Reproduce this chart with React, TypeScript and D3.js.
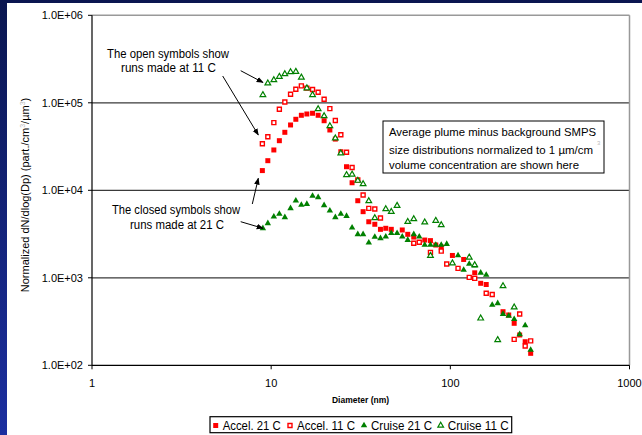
import React from 'react';
import * as d3 from 'd3';

// diameter (nm), normalized dN/dlog(Dp)
const accel21 = [
  [8.93, 1.68e4], [9.58, 2.18e4], [10.35, 2.89e4], [11.11, 3.69e4], [11.92, 4.6e4], [12.83, 5.58e4],
  [13.73, 6.48e4], [14.74, 7.2e4], [15.82, 7.45e4], [17.02, 7.59e4], [18.29, 7.2e4], [19.75, 6.24e4],
  [21.26, 4.89e4], [22.81, 3.85e4], [24.48, 2.76e4], [26.34, 1.86e4], [28.29, 1.22e4], [30.44, 7.6e3],
  [32.6, 5.7e3], [35.06, 4.37e3], [37.88, 4.09e3], [40.74, 3.58e3], [43.62, 3.68e3], [46.82, 3.58e3],
  [53.91, 3.52e3], [57.86, 3.14e3], [62.5, 2.92e3], [71.97, 2.7e3], [77.45, 2.66e3], [82.93, 2.37e3],
  [88.98, 2.25e3], [102.7, 1.8e3], [118.7, 1.62e3], [136.8, 1.14e3], [147.7, 865], [158.6, 838],
  [196.8, 410], [211.8, 376], [227.2, 302], [243.8, 222], [261.7, 186], [280.8, 137],
];
const accel11 = [
  [8.93, 3.41e4], [9.58, 4.1e4], [10.35, 5.93e4], [11.11, 8.43e4], [11.92, 1.02e5], [12.83, 1.25e5],
  [13.73, 1.43e5], [14.74, 1.56e5], [15.82, 1.47e5], [17.02, 1.42e5], [18.29, 1.32e5], [19.75, 1.1e5],
  [21.26, 8.57e4], [22.81, 6.28e4], [24.48, 4.31e4], [26.34, 2.72e4], [28.29, 1.82e4], [30.44, 1.31e4],
  [32.6, 8.84e3], [35.06, 6.22e3], [37.88, 6.11e3], [40.74, 4.82e3], [62.5, 2.48e3], [67.07, 2.55e3],
  [77.45, 1.95e3], [88.98, 2.02e3], [95.48, 1.44e3], [110.4, 1.28e3], [127.5, 1.01e3], [136.8, 986],
  [158.6, 665], [171.3, 644], [227.2, 198], [243.8, 385], [261.7, 166], [280.8, 190],
];
const cruise21 = [
  [8.99, 3.68e3], [9.58, 4.2e3], [10.35, 4.99e3], [11.11, 5.36e3], [11.92, 4.91e3], [12.83, 6.22e3],
  [13.73, 7.61e3], [14.74, 6.79e3], [15.82, 6.97e3], [17.02, 8.61e3], [18.29, 8.32e3], [19.75, 6.74e3],
  [21.26, 5.85e3], [22.81, 4.91e3], [24.48, 5.36e3], [26.34, 5.08e3], [28.29, 3.74e3], [30.44, 3.14e3],
  [32.6, 3.14e3], [35.06, 2.52e3], [37.88, 2.93e3], [40.74, 2.83e3], [43.62, 2.95e3], [46.82, 3.23e3],
  [50.44, 3.23e3], [53.91, 2.95e3], [57.86, 2.7e3], [62.5, 3.14e3], [67.07, 2.95e3], [71.97, 2.37e3],
  [77.45, 2.37e3], [82.93, 2.37e3], [88.98, 2.37e3], [95.48, 2.43e3], [110.4, 1.8e3], [118.7, 1.23e3],
  [127.5, 1.44e3], [136.8, 1.38e3], [147.7, 1.14e3], [158.6, 1.08e3], [171.3, 489], [183.8, 511],
  [196.8, 385], [211.8, 366], [227.2, 336], [243.8, 226], [261.7, 285], [280.8, 150],
];
const cruise11 = [
  [8.99, 1.23e5], [9.58, 1.67e5], [10.35, 1.82e5], [11.11, 1.99e5], [11.92, 2.13e5], [12.83, 2.25e5],
  [13.73, 2.27e5], [14.74, 1.95e5], [15.82, 1.47e5], [17.02, 1.23e5], [18.29, 8.5e4], [19.75, 7.06e4],
  [21.26, 5.43e4], [22.81, 3.93e4], [24.48, 2.65e4], [26.34, 1.5e4], [28.29, 1.52e4], [30.44, 1.29e4],
  [32.6, 1.18e4], [35.06, 7.55e3], [37.88, 4.82e3], [43.62, 6.11e3], [46.82, 5.69e3], [50.44, 6.67e3],
  [57.86, 4.37e3], [62.5, 4.7e3], [71.97, 4.31e3], [77.45, 1.79e3], [82.93, 4.5e3], [88.98, 4.01e3],
  [102.7, 1.47e3], [127.5, 1.71e3], [136.8, 1.4e3], [147.7, 344], [183.8, 195], [196.8, 806], [227.2, 460],
];

const xTicks = [1, 10, 100, 1000];
const yTicks = [1e2, 1e3, 1e4, 1e5, 1e6];
const yTickLabels = ['1.0E+02', '1.0E+03', '1.0E+04', '1.0E+05', '1.0E+06'];
const legendNames = ['Accel. 21 C', 'Accel. 11 C', 'Cruise 21 C', 'Cruise 11 C'];

const RED = '#ff0000';
const GREEN = '#008000';
const FONT = '"Liberation Sans", Arial, sans-serif';

const x = d3.scaleLog().domain([1, 1000]).range([92, 629.5]);
const y = d3.scaleLog().domain([100, 1e6]).range([365.3, 15.3]);

const sq = d3.symbol(d3.symbolSquare, 25)();
const sqOpen = d3.symbol(d3.symbolSquare, 16)();
const tri = d3.symbol(d3.symbolTriangle, 18)();
const triOpen = d3.symbol(d3.symbolTriangle, 14)();

const Mark = ({ kind, tx, ty }) => {
  const t = `translate(${tx},${ty})`;
  if (kind === 0) return <path d={sq} transform={t} fill={RED} />;
  if (kind === 1) return <path d={sqOpen} transform={t} fill="#fff" stroke={RED} strokeWidth={1.4} />;
  if (kind === 2) return <path d={tri} transform={t} fill={GREEN} />;
  return <path d={triOpen} transform={t} fill="#fff" stroke={GREEN} strokeWidth={1.2} />;
};

const series = [accel21, accel11, cruise21, cruise11];

export default function App() {
  const legendX = [215.7, 290, 364, 440.7];
  return (
    <svg width={642} height={435} style={{ position: 'absolute', left: 0, top: 0 }} fontFamily={FONT}>
      <defs>
        <linearGradient id="bg" x1="0" y1="0" x2="0" y2="1">
          <stop offset="0" stopColor="#0a1650" />
          <stop offset="1" stopColor="#1c2fa0" />
        </linearGradient>
        <marker id="ah" viewBox="0 0 10 10" refX="9" refY="5" markerWidth="7" markerHeight="7" orient="auto">
          <path d="M0,1 L10,5 L0,9 Z" fill="#000" />
        </marker>
      </defs>
      <rect width={642} height={435} fill="url(#bg)" />
      <rect x={7} y={3} width={635} height={432} fill="#fff" />

      {/* grid + frame */}
      {yTicks.slice(1, 4).map((v) => (
        <line key={v} x1={x(1)} x2={x(1000)} y1={y(v)} y2={y(v)} stroke="#3a3a3a" strokeWidth={1.3} />
      ))}
      <line x1={x(1)} x2={x(1000)} y1={y(1e6)} y2={y(1e6)} stroke="#999" strokeWidth={1.5} />
      <line x1={x(1000)} x2={x(1000)} y1={y(1e6)} y2={y(100)} stroke="#999" strokeWidth={1.5} />
      <line x1={x(1)} x2={x(1)} y1={y(1e6)} y2={y(100)} stroke="#000" strokeWidth={1.2} />
      <line x1={x(1)} x2={x(1000)} y1={y(100)} y2={y(100)} stroke="#000" strokeWidth={1.2} />

      {yTicks.map((v, i) => (
        <g key={v}>
          <line x1={x(1) - 4} x2={x(1)} y1={y(v)} y2={y(v)} stroke="#000" />
          <text x={83} y={y(v) + 4} textAnchor="end" fontSize={11}>{yTickLabels[i]}</text>
        </g>
      ))}
      {xTicks.map((v) => (
        <g key={v}>
          <line x1={x(v)} x2={x(v)} y1={y(100)} y2={y(100) + 4} stroke="#000" />
          <text x={x(v)} y={387} textAnchor="middle" fontSize={11}>{v}</text>
        </g>
      ))}

      <text x={360.5} y={403} textAnchor="middle" fontSize={8.5} fontWeight="bold">Diameter (nm)</text>
      <text transform="translate(29,195) rotate(-90)" textAnchor="middle" fontSize={11}>
        Normalized dN/dlog(Dp) (part./cm
        <tspan fill="#bbb" fontSize={7} dy={-4}>3</tspan>
        <tspan dy={4}>/µm</tspan>
        <tspan fill="#bbb" fontSize={7} dy={-4}>3</tspan>
        <tspan dy={4}>)</tspan>
      </text>

      {/* data */}
      {series.map((s, k) => (
        <g key={k}>
          {s.map((d, i) => (
            <Mark key={i} kind={k} tx={x(d[0])} ty={y(d[1])} />
          ))}
        </g>
      ))}

      {/* callouts */}
      <g fontSize={12}>
        <text x={168} y={58} textAnchor="middle" textLength={122} lengthAdjust="spacingAndGlyphs">The open symbols show</text>
        <text x={168.5} y={72} textAnchor="middle" textLength={95} lengthAdjust="spacingAndGlyphs">runs made at 11 C</text>
        <text x={176} y={214} textAnchor="middle" textLength={128} lengthAdjust="spacingAndGlyphs">The closed symbols show</text>
        <text x={177} y={229} textAnchor="middle" textLength={94} lengthAdjust="spacingAndGlyphs">runs made at 21 C</text>
      </g>
      <g stroke="#000" strokeWidth={1} markerEnd="url(#ah)">
        <line x1={240.7} y1={70.7} x2={263} y2={82.5} />
        <line x1={222.7} y1={76} x2={258.3} y2={135} />
        <line x1={252.3} y1={204} x2={258.3} y2={178.3} />
        <line x1={240.7} y1={221.7} x2={263} y2={228.3} />
      </g>

      <rect x={383} y={121} width={221} height={52} fill="#fff" stroke="#000" strokeWidth={1} />
      <g fontSize={11.2}>
        <text x={389} y={136} textLength={207} lengthAdjust="spacingAndGlyphs">Average plume minus background  SMPS</text>
        <text x={389} y={154} textLength={204} lengthAdjust="spacingAndGlyphs">size distributions normalized to 1 µm/cm</text>
        <text x={597} y={145} fontSize={6} fill="#bbb">3</text>
        <text x={389} y={169} textLength={190} lengthAdjust="spacingAndGlyphs">volume concentration are shown here</text>
      </g>

      {/* legend */}
      <rect x={210} y={416.7} width={301.7} height={16} fill="#fff" stroke="#000" strokeWidth={1.2} />
      {legendNames.map((n, k) => (
        <g key={n}>
          <Mark kind={k} tx={legendX[k]} ty={425.5} />
          <text x={legendX[k] + 7} y={430} fontSize={12} textLength={k < 2 ? 58 : 61} lengthAdjust="spacingAndGlyphs">{n}</text>
        </g>
      ))}
    </svg>
  );
}
